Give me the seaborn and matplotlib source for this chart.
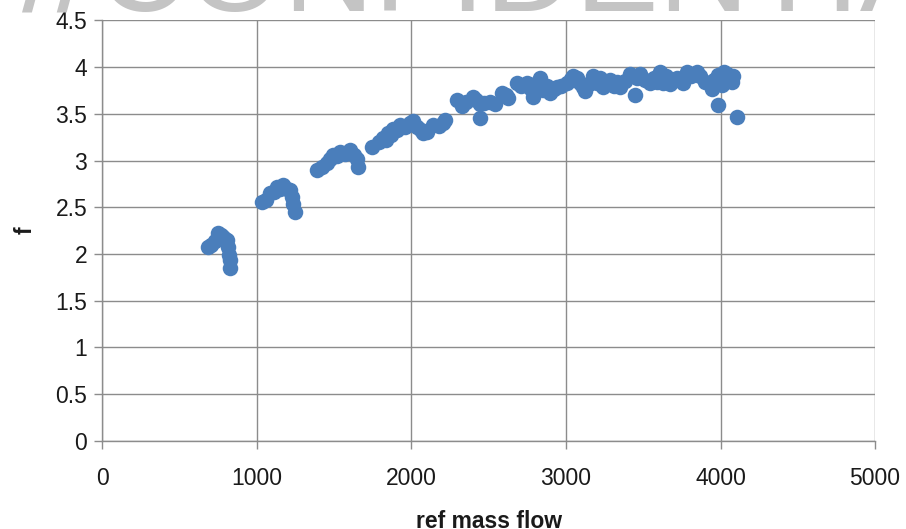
import matplotlib
matplotlib.use("Agg")
import matplotlib.pyplot as plt
import seaborn as sns
import pandas as pd

# measured reference mass flow and corresponding factor f
ref_mass_flow = [
    685, 700, 730, 750, 770, 780, 795, 804, 812, 819, 825, 825,
    1030, 1060, 1084, 1110, 1127, 1150, 1170, 1195, 1214, 1224, 1235, 1246,
    1386, 1420, 1451, 1470, 1494, 1515, 1537, 1570, 1602, 1625, 1645, 1656,
    1742, 1790, 1818, 1835, 1850, 1870, 1882, 1905, 1926, 1960, 1990, 2010,
    2034, 2060, 2076, 2100, 2141, 2180, 2206, 2217,
    2293, 2325, 2350, 2400, 2420, 2443, 2443, 2470, 2508, 2540, 2584, 2610,
    2627, 2681, 2710, 2746, 2770, 2788, 2810, 2832, 2853, 2880, 2896, 2920,
    2940, 2970, 3005, 3030, 3047, 3070, 3091, 3112, 3123, 3150, 3177, 3200,
    3220, 3242, 3265, 3285, 3310, 3330, 3350, 3380, 3414, 3447, 3460, 3479,
    3510, 3544, 3570, 3590, 3608, 3630, 3650, 3670, 3695, 3720, 3759, 3781,
    3810, 3846, 3870, 3900, 3943, 3960, 3986, 3986, 4008, 4020, 4040, 4055,
    4073, 4080, 4105,
]
f_values = [
    2.08, 2.10, 2.14, 2.22, 2.20, 2.18, 2.16, 2.15, 2.08, 1.99, 1.94, 1.85,
    2.56, 2.58, 2.65, 2.66, 2.72, 2.70, 2.74, 2.70, 2.68, 2.61, 2.54, 2.45,
    2.90, 2.93, 2.97, 3.02, 3.06, 3.05, 3.09, 3.07, 3.11, 3.06, 3.02, 2.93,
    3.15, 3.20, 3.24, 3.22, 3.29, 3.27, 3.34, 3.33, 3.38, 3.36, 3.40, 3.42,
    3.36, 3.33, 3.29, 3.31, 3.38, 3.37, 3.40, 3.43,
    3.65, 3.58, 3.63, 3.68, 3.65, 3.61, 3.45, 3.62, 3.63, 3.60, 3.72, 3.70,
    3.67, 3.83, 3.80, 3.83, 3.78, 3.68, 3.83, 3.88, 3.75, 3.80, 3.72, 3.76,
    3.79, 3.80, 3.83, 3.87, 3.90, 3.88, 3.83, 3.79, 3.74, 3.82, 3.90, 3.83,
    3.88, 3.79, 3.82, 3.86, 3.80, 3.84, 3.79, 3.85, 3.93, 3.70, 3.88, 3.93,
    3.86, 3.83, 3.88, 3.84, 3.95, 3.83, 3.90, 3.82, 3.86, 3.88, 3.83, 3.95,
    3.90, 3.95, 3.90, 3.84, 3.77, 3.86, 3.91, 3.59, 3.81, 3.95, 3.93, 3.88,
    3.84, 3.90, 3.47,
]
x_ticks = [0, 1000, 2000, 3000, 4000, 5000]
y_ticks = [0, 0.5, 1, 1.5, 2, 2.5, 3, 3.5, 4, 4.5]
y_tick_labels = ["0", "0.5", "1", "1.5", "2", "2.5", "3", "3.5", "4", "4.5"]

df = pd.DataFrame({"ref mass flow": ref_mass_flow, "f": f_values})

sns.set_style("white")
plt.rcParams["font.family"] = ["Liberation Sans", "DejaVu Sans"]

fig = plt.figure(figsize=(9.06, 5.29), dpi=100)
ax = fig.add_axes([0.1131, 0.1664, 0.8527, 0.7952])

sns.scatterplot(data=df, x="ref mass flow", y="f", ax=ax,
                color="#4a7ebb", s=125, linewidth=0, alpha=1.0, zorder=3)

ax.set_xlim(0, 5000)
ax.set_ylim(0, 4.5)
ax.set_xticks(x_ticks)
ax.set_yticks(y_ticks)
ax.set_yticklabels(y_tick_labels)

ax.grid(True, color="#8c8c8c", linewidth=1.0)
ax.set_axisbelow(True)
for side in ["top", "right"]:
    ax.spines[side].set_visible(False)
for side in ["left", "bottom"]:
    ax.spines[side].set_color("#8c8c8c")
    ax.spines[side].set_linewidth(1.0)

ax.tick_params(axis="both", which="major", direction="out", length=6,
               width=1.0, color="#8c8c8c", labelsize=16.5, labelcolor="#1a1a1a",
               left=True, bottom=True)
ax.tick_params(axis="x", pad=13)
ax.tick_params(axis="y", pad=5)

ax.set_xlabel("ref mass flow", fontsize=16.5, fontweight="bold", labelpad=14,
              color="#1a1a1a")
ax.set_ylabel("f", fontsize=16.5, fontweight="bold", color="#1a1a1a",
              va="center", rotation=90)
ax.yaxis.set_label_coords(-0.1, 0.5)

# faint banner across the top edge
fig.text(97 / 906, 1 - 11 / 529, "CONFIDENTIA", fontsize=90,
         color="#c4c4c4", ha="left", va="baseline", zorder=0)
fig.text(92 / 906, 1 - 11 / 529, "//", fontsize=90,
         color="#c4c4c4", ha="right", va="baseline", zorder=0)

fig.savefig("out.png", dpi=100)
